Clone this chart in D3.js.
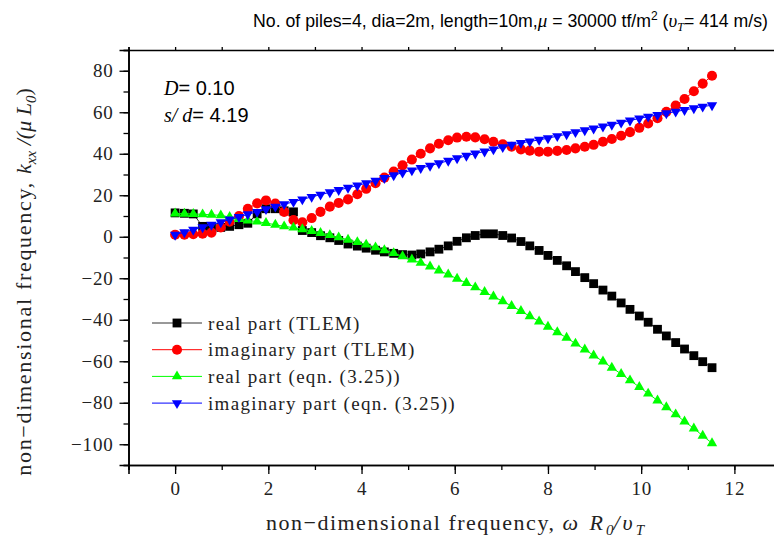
<!DOCTYPE html>
<html>
<head>
<meta charset="utf-8">
<script src="https://cdn.jsdelivr.net/npm/d3@7"></script>
<style>
  body { margin: 0; background: #fff; }
  svg { display: block; }
</style>
</head>
<body>
<svg id="chart" width="774" height="545"></svg>
<script>
// non-dimensional frequency  omega R0 / vT
const freq = [0.00, 0.20, 0.39, 0.59, 0.78, 0.98, 1.17, 1.37, 1.56, 1.76,
    1.95, 2.15, 2.34, 2.54, 2.73, 2.93, 3.12, 3.32, 3.51, 3.71,
    3.91, 4.10, 4.30, 4.49, 4.69, 4.88, 5.08, 5.27, 5.47, 5.66,
    5.86, 6.05, 6.25, 6.44, 6.64, 6.83, 7.03, 7.22, 7.42, 7.61,
    7.81, 8.00, 8.20, 8.40, 8.59, 8.79, 8.98, 9.18, 9.37, 9.57,
    9.76, 9.96, 10.15, 10.35, 10.54, 10.74, 10.93, 11.13, 11.32, 11.52];

const realTLEM = [11.5, 11.3, 11.0, 5.0, 4.3, 4.5, 5.0, 5.8, 6.5, 11.0,
    13.5, 13.5, 12.5, 12.0, 3.0, 2.0, 0.5, -0.5, -1.8, -3.5,
    -4.5, -5.5, -6.5, -7.3, -8.0, -8.6, -8.8, -8.3, -7.3, -6.0,
    -4.4, -2.2, -0.5, 0.6, 1.4, 1.4, 0.6, -0.6, -2.3, -4.4,
    -6.6, -9.0, -11.4, -14.0, -16.8, -19.7, -22.6, -25.7, -28.6, -31.9,
    -35.0, -38.2, -41.2, -44.6, -47.8, -51.0, -54.1, -57.3, -60.2, -63.1];

const imagTLEM = [1.0, 1.0, 1.2, 1.5, 2.0, 4.5, 7.3, 10.0, 13.5, 16.1,
    17.5, 16.0, 12.0, 8.0, 7.0, 9.0, 12.0, 14.5, 16.3, 18.0,
    20.5, 23.1, 25.8, 28.5, 31.4, 34.4, 37.2, 40.0, 42.6, 44.8,
    46.5, 47.8, 48.2, 47.9, 47.0, 45.8, 44.6, 43.4, 42.1, 41.5,
    41.0, 41.0, 41.4, 41.8, 42.6, 43.4, 44.3, 45.8, 47.1, 48.7,
    50.4, 52.5, 54.6, 57.1, 60.2, 63.2, 66.4, 70.1, 73.8, 77.6];

const realEqn = [11.2, 11.1, 11.0, 10.8, 10.6, 10.3, 9.5, 8.5, 7.8, 7.3,
    6.6, 5.8, 5.0, 4.4, 3.6, 2.8, 1.8, 0.8, -0.3, -1.4,
    -2.6, -3.8, -5.1, -6.5, -7.9, -9.4, -11.0, -12.6, -14.3, -16.3,
    -18.2, -20.2, -22.3, -24.4, -26.6, -28.8, -31.1, -33.4, -35.8, -38.3,
    -40.8, -43.4, -46.0, -48.7, -51.5, -54.3, -57.2, -60.1, -63.1, -66.1,
    -69.2, -72.4, -75.6, -78.9, -82.2, -85.6, -89.0, -92.4, -95.9, -99.5];

const imagEqn = [1.0, 2.2, 3.4, 4.6, 5.8, 7.0, 8.3, 9.5, 10.8, 12.0,
    13.3, 14.5, 15.7, 16.8, 18.0, 19.2, 20.3, 21.4, 22.5, 23.6,
    24.7, 25.8, 27.0, 28.3, 29.6, 30.9, 32.0, 33.1, 34.2, 35.4,
    36.6, 37.8, 39.0, 40.1, 41.1, 42.1, 43.2, 44.3, 45.2, 45.9,
    46.7, 47.5, 48.5, 49.4, 50.4, 51.3, 52.2, 53.1, 54.0, 55.0,
    56.0, 57.0, 57.9, 58.7, 59.5, 60.3, 61.1, 61.9, 62.7, 63.4];

const seriesNames = ["real part (TLEM)", "imaginary part (TLEM)", "real part (eqn. (3.25))", "imaginary part (eqn. (3.25))"];
const xTicks = [0, 2, 4, 6, 8, 10, 12];
const yTicks = [-100, -80, -60, -40, -20, 0, 20, 40, 60, 80];

const svg = d3.select("#chart")
const margin = {top: 50, left: 128.5}
const plotW = 652.5, plotH = 415
const g = svg.append("g").attr("transform", "translate(" + margin.left + "," + margin.top + ")")

const x = d3.scaleLinear().domain([-1, 13]).range([0, plotW])
const y = d3.scaleLinear().domain([-110, 90]).range([plotH, 0])

const serif = "'Liberation Serif', 'DejaVu Serif', serif"
const sans = "'Liberation Sans', Arial, sans-serif"

const series = [
    {name: seriesNames[0], values: realTLEM, color: "#000000", line: "#333333", shape: d3.symbolSquare, size: 78, rot: 0},
    {name: seriesNames[1], values: imagTLEM, color: "#ff0000", line: "#ff0000", shape: d3.symbolCircle, size: 80, rot: 0},
    {name: seriesNames[2], values: realEqn, color: "#00ff00", line: "#00ff00", shape: d3.symbolTriangle, size: 46, rot: 0},
    {name: seriesNames[3], values: imagEqn, color: "#0000ff", line: "#0000ff", shape: d3.symbolTriangle, size: 46, rot: 180}
]

// axes (bottom with labels, left with labels, top ticks only)
function styleAxis(sel) {
    sel.select(".domain").attr("stroke", "#000").attr("stroke-width", 1.6)
    sel.selectAll(".tick line").attr("stroke", "#000").attr("stroke-width", 1.3)
    sel.selectAll(".tick text").style("font-family", serif).style("font-size", "19px")
        .style("letter-spacing", "0.8px").attr("fill", "#222")
}

g.append("g")
    .attr("transform", "translate(0," + plotH + ")")
    .call(d3.axisBottom(x).tickValues(d3.range(-1, 14, 1)).tickSize(5).tickFormat(""))
    .call(styleAxis)
g.append("g")
    .attr("transform", "translate(0," + plotH + ")")
    .call(d3.axisBottom(x).tickValues(xTicks).tickSize(9).tickPadding(8).tickFormat(d3.format("d")))
    .call(styleAxis)

g.append("g")
    .call(d3.axisLeft(y).tickValues(d3.range(-110, 91, 10)).tickSize(5).tickFormat(""))
    .call(styleAxis)
g.append("g")
    .call(d3.axisLeft(y).tickValues(yTicks).tickSize(9).tickPadding(6).tickFormat(function(d) { return d < 0 ? "\u2212" + Math.abs(d) : d; }))
    .call(styleAxis)

g.append("g")
    .call(d3.axisTop(x).tickValues(d3.range(-1, 14, 1)).tickSize(3).tickFormat(""))
    .call(styleAxis)

// series: line then markers
const line = d3.line()
    .x(function(d, i) { return x(freq[i]); })
    .y(function(d) { return y(d); })

series.forEach(function(s) {
    const sg = g.append("g")
    sg.append("path")
        .attr("d", line(s.values))
        .attr("fill", "none")
        .attr("stroke", s.line)
        .attr("stroke-width", 1)
    sg.selectAll("path.pt")
        .data(s.values)
        .enter().append("path")
        .attr("class", "pt")
        .attr("d", d3.symbol().type(s.shape).size(s.size))
        .attr("transform", function(d, i) { return "translate(" + x(freq[i]) + "," + y(d) + ") rotate(" + s.rot + ")"; })
        .attr("fill", s.color)
})

// legend
const legend = svg.append("g").attr("transform", "translate(152,323)")
series.forEach(function(s, i) {
    const row = legend.append("g").attr("transform", "translate(0," + (i * 26.7) + ")")
    row.append("line")
        .attr("x1", 0).attr("x2", 50)
        .attr("stroke", s.line).attr("stroke-width", 1)
    row.append("path")
        .attr("d", d3.symbol().type(s.shape).size(s.size))
        .attr("transform", "translate(25,0) rotate(" + s.rot + ")")
        .attr("fill", s.color)
    row.append("text")
        .attr("x", 56)
        .attr("dy", "0.35em")
        .style("font-family", serif)
        .style("font-size", "19px")
        .style("letter-spacing", "1.3px")
        .attr("fill", "#222")
        .text(s.name)
})

// annotation
const note = svg.append("g").style("font-size", "20px")
const t1 = note.append("text").attr("x", 164).attr("y", 95)
t1.append("tspan").style("font-family", serif).style("font-style", "italic").text("D")
t1.append("tspan").style("font-family", sans).text("= 0.10")
const t2 = note.append("text").attr("x", 164).attr("y", 122)
t2.append("tspan").style("font-family", serif).style("font-style", "italic").text("s/ d")
t2.append("tspan").style("font-family", sans).text("= 4.19")

// title
const title = svg.append("text")
    .attr("x", 768)
    .attr("y", 27)
    .attr("text-anchor", "end")
    .style("font-family", sans)
    .style("font-size", "17.7px")
title.append("tspan").text("No. of piles=4, dia=2m, length=10m,")
title.append("tspan").style("font-family", serif).style("font-style", "italic").style("font-size", "19px").text("\u03bc")
title.append("tspan").text(" = 30000 tf/m")
title.append("tspan").attr("dy", -7).style("font-size", "12px").text("2")
title.append("tspan").attr("dy", 7).text(" (")
title.append("tspan").style("font-family", serif).style("font-style", "italic").style("font-size", "19px").text("\u03c5")
title.append("tspan").attr("dy", 4).style("font-family", serif).style("font-style", "italic").style("font-size", "12px").text("T")
title.append("tspan").attr("dy", -4).text("= 414 m/s)")

// x axis title
const xt = svg.append("text")
    .attr("x", 455)
    .attr("y", 530)
    .attr("text-anchor", "middle")
    .style("font-family", serif)
    .style("font-size", "22px")
    .attr("fill", "#222")
xt.append("tspan").style("letter-spacing", "1.5px").text("non\u2212dimensional frequency, ")
xt.append("tspan").style("font-style", "italic").style("letter-spacing", "3px").text("\u03c9 R")
xt.append("tspan").attr("dy", 5).style("font-style", "italic").style("font-size", "15px").text("0")
xt.append("tspan").attr("dy", -5).style("font-style", "italic").style("letter-spacing", "3px").text("/\u03c5")
xt.append("tspan").attr("dy", 5).style("font-style", "italic").style("font-size", "15px").text("T")

// y axis title
const yt = svg.append("text")
    .attr("transform", "translate(31,282) rotate(-90)")
    .attr("text-anchor", "middle")
    .style("font-family", serif)
    .style("font-size", "22px")
    .attr("fill", "#222")
yt.append("tspan").style("letter-spacing", "1.7px").text("non\u2212dimensional frequency, ")
yt.append("tspan").style("font-style", "italic").text("k")
yt.append("tspan").attr("dy", 5).style("font-style", "italic").style("font-size", "15px").text("xx")
yt.append("tspan").attr("dy", -5).style("font-style", "italic").text(" /(\u03bc L")
yt.append("tspan").attr("dy", 5).style("font-style", "italic").style("font-size", "15px").text("0")
yt.append("tspan").attr("dy", -5).text(")")
</script>
</body>
</html>
